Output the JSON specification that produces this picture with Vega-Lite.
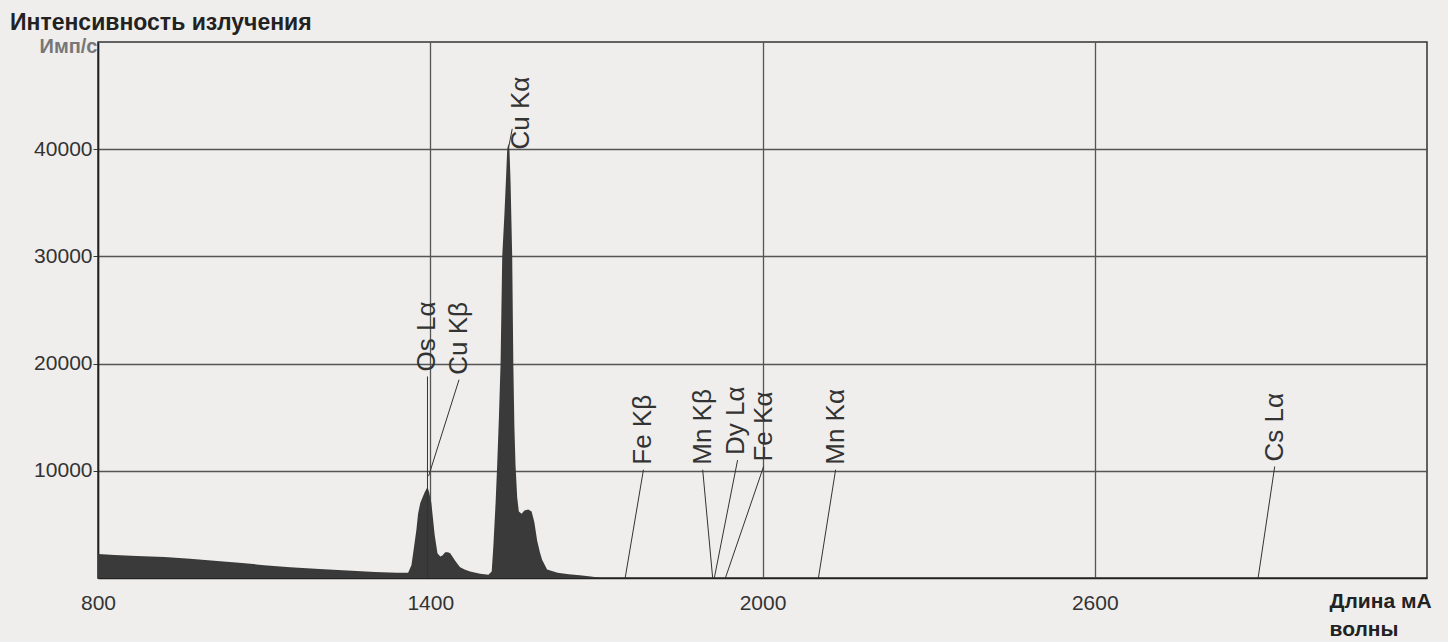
{
  "$schema": "https://vega.github.io/schema/vega-lite/v6.json",
  "width": 1329,
  "height": 536,
  "autosize": {"type": "none"},
  "padding": {"left": 98, "top": 42, "right": 21, "bottom": 64},
  "background": "#efeeec",
  "config": {
    "view": {"stroke": "#333333", "strokeWidth": 1.5},
    "font": "Liberation Sans"
  },
  "title": {
    "text": "Интенсивность излучения",
    "anchor": "start",
    "frame": "group",
    "dx": -88,
    "offset": 1,
    "fontSize": 23,
    "fontWeight": "bold",
    "color": "#222222"
  },
  "datasets": {
    "spectrum": [
      {"wavelength": 800, "intensity": 2250},
      {"wavelength": 830, "intensity": 2150},
      {"wavelength": 870, "intensity": 2050},
      {"wavelength": 920, "intensity": 1950},
      {"wavelength": 966, "intensity": 1800},
      {"wavelength": 1010, "intensity": 1600},
      {"wavelength": 1060, "intensity": 1400},
      {"wavelength": 1100, "intensity": 1200},
      {"wavelength": 1147, "intensity": 1000},
      {"wavelength": 1200, "intensity": 850},
      {"wavelength": 1250, "intensity": 700},
      {"wavelength": 1300, "intensity": 550},
      {"wavelength": 1340, "intensity": 480},
      {"wavelength": 1360, "intensity": 500},
      {"wavelength": 1366, "intensity": 1200},
      {"wavelength": 1371, "intensity": 3000},
      {"wavelength": 1375, "intensity": 4500},
      {"wavelength": 1378, "intensity": 6000},
      {"wavelength": 1382, "intensity": 7000},
      {"wavelength": 1386, "intensity": 7500},
      {"wavelength": 1390, "intensity": 8000},
      {"wavelength": 1395, "intensity": 8500},
      {"wavelength": 1398, "intensity": 8000},
      {"wavelength": 1402, "intensity": 7000},
      {"wavelength": 1405, "intensity": 5500},
      {"wavelength": 1408, "intensity": 4000},
      {"wavelength": 1413, "intensity": 2300},
      {"wavelength": 1418, "intensity": 2000},
      {"wavelength": 1422, "intensity": 2100},
      {"wavelength": 1427, "intensity": 2400},
      {"wavelength": 1432, "intensity": 2400},
      {"wavelength": 1436, "intensity": 2300},
      {"wavelength": 1440, "intensity": 2000},
      {"wavelength": 1445, "intensity": 1600},
      {"wavelength": 1450, "intensity": 1250},
      {"wavelength": 1454, "intensity": 1000},
      {"wavelength": 1462, "intensity": 800},
      {"wavelength": 1472, "intensity": 600},
      {"wavelength": 1490, "intensity": 400},
      {"wavelength": 1505, "intensity": 300},
      {"wavelength": 1511, "intensity": 600},
      {"wavelength": 1514, "intensity": 3000},
      {"wavelength": 1518, "intensity": 7000},
      {"wavelength": 1521, "intensity": 10700},
      {"wavelength": 1524, "intensity": 15000},
      {"wavelength": 1527, "intensity": 20000},
      {"wavelength": 1530, "intensity": 30000},
      {"wavelength": 1534, "intensity": 34000},
      {"wavelength": 1537, "intensity": 37500},
      {"wavelength": 1539, "intensity": 40000},
      {"wavelength": 1541, "intensity": 40500},
      {"wavelength": 1543, "intensity": 40000},
      {"wavelength": 1545, "intensity": 37000},
      {"wavelength": 1548, "intensity": 30000},
      {"wavelength": 1550, "intensity": 20000},
      {"wavelength": 1552, "intensity": 14000},
      {"wavelength": 1554, "intensity": 10500},
      {"wavelength": 1557, "intensity": 7500},
      {"wavelength": 1560, "intensity": 6200},
      {"wavelength": 1565, "intensity": 6000},
      {"wavelength": 1570, "intensity": 6300},
      {"wavelength": 1577, "intensity": 6400},
      {"wavelength": 1583, "intensity": 6200},
      {"wavelength": 1588, "intensity": 5200},
      {"wavelength": 1593, "intensity": 3500},
      {"wavelength": 1598, "intensity": 2400},
      {"wavelength": 1602, "intensity": 1700},
      {"wavelength": 1611, "intensity": 800},
      {"wavelength": 1630, "intensity": 500},
      {"wavelength": 1650, "intensity": 350},
      {"wavelength": 1670, "intensity": 250},
      {"wavelength": 1690, "intensity": 150},
      {"wavelength": 1710, "intensity": 0},
      {"wavelength": 3200, "intensity": 0}
    ],
    "labels": [
      {"label": "Os Lα", "tx": 1395, "ty": 0, "lx": 1395, "ly": 18800, "textx": 1395, "texty": 18800},
      {"label": "Cu Kβ", "tx": 1397, "ty": 9500, "lx": 1452, "ly": 18500, "textx": 1452, "texty": 18500},
      {"label": "Cu Kα", "tx": 1541, "ty": 40000, "lx": 1548, "ly": 41900, "textx": 1564, "texty": 39500},
      {"label": "Fe Kβ", "tx": 1752, "ty": 0, "lx": 1785, "ly": 10100, "textx": 1785, "texty": 10100},
      {"label": "Mn Kβ", "tx": 1910, "ty": 0, "lx": 1892, "ly": 10100, "textx": 1892, "texty": 10100},
      {"label": "Dy Lα", "tx": 1913, "ty": 0, "lx": 1955, "ly": 11000, "textx": 1953, "texty": 11000},
      {"label": "Fe Kα", "tx": 1933, "ty": 0, "lx": 2002, "ly": 10400, "textx": 2002, "texty": 10400},
      {"label": "Mn Kα", "tx": 2101, "ty": 0, "lx": 2132, "ly": 10100, "textx": 2132, "texty": 10100},
      {"label": "Cs Lα", "tx": 2895, "ty": 0, "lx": 2925, "ly": 10400, "textx": 2925, "texty": 10400}
    ]
  },
  "layer": [
    {
      "data": {"name": "spectrum"},
      "mark": {"type": "area", "color": "#3a3a3a", "interpolate": "linear"},
      "encoding": {
        "x": {
          "field": "wavelength",
          "type": "quantitative",
          "scale": {"domain": [800, 3200], "nice": false, "zero": false},
          "axis": {
            "values": [800, 1400, 2000, 2600],
            "format": "d",
            "grid": true,
            "gridColor": "#555555",
            "gridWidth": 1.3,
            "gridOpacity": 1,
            "ticks": false,
            "labelFlush": false,
            "labelPadding": 14,
            "labelFontSize": 21,
            "labelColor": "#333333",
            "domainColor": "#222222",
            "domainWidth": 1.5,
            "title": ["Длина мА", " волны"],
            "titleX": 1231,
            "titleY": 12,
            "titleAlign": "left",
            "titleBaseline": "top",
            "titleFontSize": 21,
            "titleFontWeight": "bold",
            "titleLineHeight": 28,
            "titleColor": "#222222"
          }
        },
        "y": {
          "field": "intensity",
          "type": "quantitative",
          "scale": {"domain": [0, 50000], "nice": false},
          "axis": {
            "values": [10000, 20000, 30000, 40000],
            "format": "d",
            "grid": true,
            "gridColor": "#555555",
            "gridWidth": 1.3,
            "gridOpacity": 1,
            "tickSize": 5,
            "tickColor": "#333333",
            "labelPadding": 1,
            "labelFontSize": 21,
            "labelColor": "#333333",
            "domainColor": "#222222",
            "domainWidth": 1.5,
            "title": "Имп/с",
            "titleAngle": 0,
            "titleAlign": "right",
            "titleBaseline": "top",
            "titleX": -1,
            "titleY": -6,
            "titleFontSize": 20,
            "titleFontWeight": "bold",
            "titleColor": "#777777"
          }
        }
      }
    },
    {
      "data": {"name": "labels"},
      "mark": {"type": "rule", "color": "#333333", "strokeWidth": 1},
      "encoding": {
        "x": {"field": "tx", "type": "quantitative"},
        "y": {"field": "ty", "type": "quantitative"},
        "x2": {"field": "lx"},
        "y2": {"field": "ly"}
      }
    },
    {
      "data": {"name": "labels"},
      "mark": {"type": "text", "angle": 270, "align": "left", "baseline": "middle", "dx": 5, "fontSize": 26, "color": "#333333"},
      "encoding": {
        "x": {"field": "textx", "type": "quantitative"},
        "y": {"field": "texty", "type": "quantitative"},
        "text": {"field": "label"}
      }
    }
  ]
}
